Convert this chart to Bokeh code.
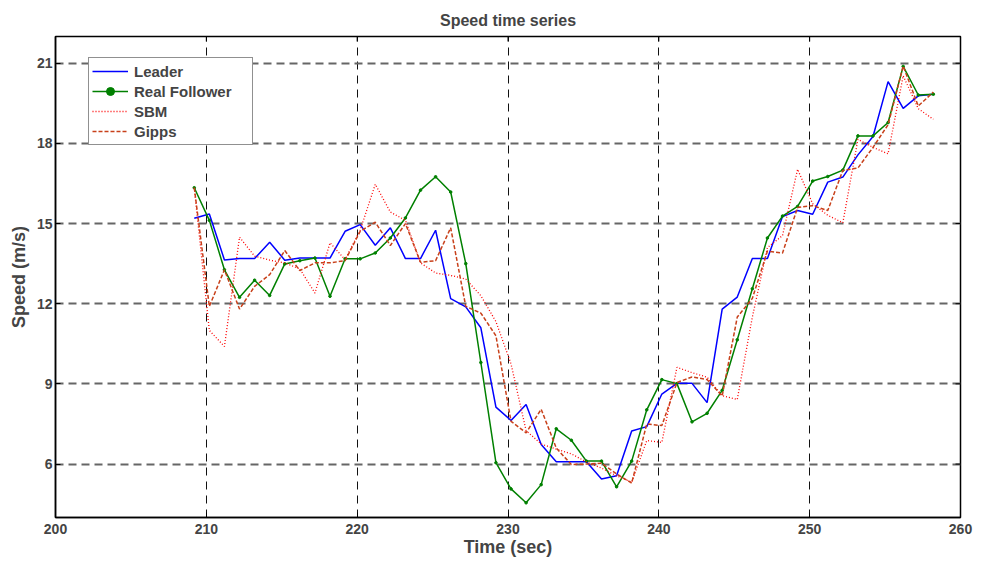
from bokeh.plotting import figure
from bokeh.models import FixedTicker, Range1d, Legend
from bokeh.embed import file_html
from bokeh.resources import INLINE

# Sample times (s)
time = [209.2 + k for k in range(50)]

# Speeds (m/s)
leader = [15.2, 15.36, 13.64, 13.69, 13.69, 14.3, 13.63, 13.71, 13.71, 13.71,
          14.71, 14.96, 14.19, 14.84, 13.69, 13.69, 14.75, 12.19, 11.88, 11.1,
          8.13, 7.63, 8.23, 6.73, 6.09, 6.09, 6.09, 5.44, 5.56, 7.24,
          7.4, 8.62, 9.02, 9.02, 8.3, 11.8, 12.25, 13.69, 13.69, 15.26,
          15.49, 15.35, 16.55, 16.74, 17.57, 18.26, 20.31, 19.31, 19.78, 19.84]

real_follower = [16.34, 15.12, 13.27, 12.24, 12.88, 12.31, 13.49, 13.61, 13.71, 12.28,
                 13.68, 13.68, 13.9, 14.46, 15.21, 16.25, 16.75, 16.18, 13.5, 9.8,
                 6.05, 5.07, 4.55, 5.23, 7.32, 6.89, 6.11, 6.11, 5.15, 6.11,
                 8.03, 9.16, 9.01, 7.58, 7.9, 8.76, 10.65, 12.56, 14.46, 15.28,
                 15.64, 16.59, 16.76, 17.0, 18.28, 18.28, 18.78, 20.88, 19.81, 19.84]

sbm = [16.34, 11.0, 10.4, 14.49, 13.78, 13.63, 13.53, 13.3, 12.4, 14.28,
       13.65, 14.75, 16.47, 15.43, 15.12, 13.53, 13.15, 13.06, 12.92, 12.3,
       11.33, 9.75, 7.25, 6.75, 6.56, 6.38, 6.08, 5.85, 5.56, 5.32,
       6.88, 6.81, 9.62, 9.42, 9.25, 8.56, 8.42, 11.5, 14.1, 14.55,
       17.03, 15.74, 15.31, 15.03, 18.15, 17.85, 17.61, 20.53, 19.3, 18.9]

gipps = [16.34, 11.9, 13.27, 11.8, 12.65, 13.09, 13.99, 13.24, 13.53, 13.53,
         13.61, 14.71, 15.05, 14.18, 15.0, 13.55, 13.61, 14.84, 11.9, 11.65,
         10.8, 7.6, 7.17, 8.05, 6.6, 5.98, 6.0, 6.03, 5.63, 5.29,
         7.5, 7.44, 9.05, 9.26, 9.16, 8.55, 11.5, 12.2, 13.97, 13.9,
         15.6, 15.67, 15.49, 16.99, 17.08, 17.85, 18.7, 20.89, 19.4, 19.92]

x_ticks = [200, 210, 220, 230, 240, 250, 260]
y_ticks = [6, 9, 12, 15, 18, 21]

X_MIN, X_MAX = 200, 260
Y_MIN, Y_MAX = 4, 22

FONT = "Liberation Sans"
W, H = 987, 563
LEFT, RIGHT, TOP, BOTTOM = 55, 27, 36, 46
TICK_PX = 5

p = figure(width=W, height=H, output_backend="svg", toolbar_location=None,
           x_range=Range1d(X_MIN, X_MAX), y_range=Range1d(Y_MIN, Y_MAX),
           min_border_left=LEFT, min_border_right=RIGHT, min_border_top=TOP,
           min_border_bottom=BOTTOM)

p.title.text = "Speed time series"
p.title.text_font = FONT
p.title.text_font_size = "16px"
p.title.text_font_style = "bold"
p.title.align = "center"
p.title.offset = 0
p.title.standoff = 16

p.outline_line_color = "black"
p.outline_line_width = 1.5
p.outline_line_alpha = 1
p.background_fill_color = "white"
p.border_fill_color = "white"

for ax in (p.xaxis[0], p.yaxis[0]):
    ax.major_tick_in = TICK_PX
    ax.major_tick_out = 0
    ax.minor_tick_line_color = None
    ax.axis_line_width = 1.5
    ax.major_tick_line_width = 1
    ax.major_label_text_font = FONT
    ax.major_label_text_font_size = "14px"
    ax.major_label_text_font_style = "bold"
    ax.axis_label_text_font = FONT
    ax.axis_label_text_font_size = "18px"
    ax.axis_label_text_font_style = "bold"

p.xaxis.ticker = FixedTicker(ticks=x_ticks)
p.yaxis.ticker = FixedTicker(ticks=y_ticks)
p.xaxis.axis_label = "Time (sec)"
p.yaxis.axis_label = "Speed (m/s)"
p.xaxis.major_label_standoff = 6
p.yaxis.major_label_standoff = 3
p.xaxis.axis_label_standoff = 0
p.yaxis.axis_label_standoff = 5

p.xgrid.ticker = FixedTicker(ticks=x_ticks)
p.ygrid.ticker = FixedTicker(ticks=y_ticks)
p.xgrid.grid_line_color = "#111111"
p.xgrid.grid_line_width = 1
p.xgrid.grid_line_dash = "8 6"
p.ygrid.grid_line_color = "#666666"
p.ygrid.grid_line_width = 2
p.ygrid.grid_line_dash = "8 5"

# inward tick marks along the top and right sides of the box
frame_w = W - LEFT - RIGHT
frame_h = H - TOP - BOTTOM
dy = TICK_PX * (Y_MAX - Y_MIN) / frame_h
dx = TICK_PX * (X_MAX - X_MIN) / frame_w
p.segment(x0=x_ticks, y0=[Y_MAX] * len(x_ticks), x1=x_ticks,
          y1=[Y_MAX - dy] * len(x_ticks), line_color="black", line_width=1)
p.segment(x0=[X_MAX] * len(y_ticks), y0=y_ticks, x1=[X_MAX - dx] * len(y_ticks),
          y1=y_ticks, line_color="black", line_width=1)

r_lead = p.line(time, leader, line_color="#0000FF", line_width=1.5)
r_real = p.line(time, real_follower, line_color="#008000", line_width=1.5)
r_real_pts = p.scatter(time, real_follower, marker="circle", size=2.6,
                       fill_color="#008000", line_color="#008000")
r_sbm = p.line(time, sbm, line_color="#FF0000", line_width=1.3, line_dash="1 2")
r_gipps = p.line(time, gipps, line_color="#C8401A", line_width=1.5, line_dash="4 2")

legend = Legend(items=[("Leader", [r_lead]),
                       ("Real Follower", [r_real, r_real_pts]),
                       ("SBM", [r_sbm]),
                       ("Gipps", [r_gipps])],
                location=(33, 372))
legend.label_text_font = FONT
legend.label_text_font_size = "15px"
legend.label_text_font_style = "bold"
legend.label_height = 20
legend.label_width = 115
legend.glyph_height = 20
legend.glyph_width = 36
legend.label_standoff = 6
legend.spacing = 0
legend.padding = 3
legend.margin = 0
legend.border_line_color = "#222222"
legend.border_line_width = 1.5
legend.background_fill_alpha = 1
p.add_layout(legend, "center")

open("out.html", "w").write(file_html(p, INLINE))
